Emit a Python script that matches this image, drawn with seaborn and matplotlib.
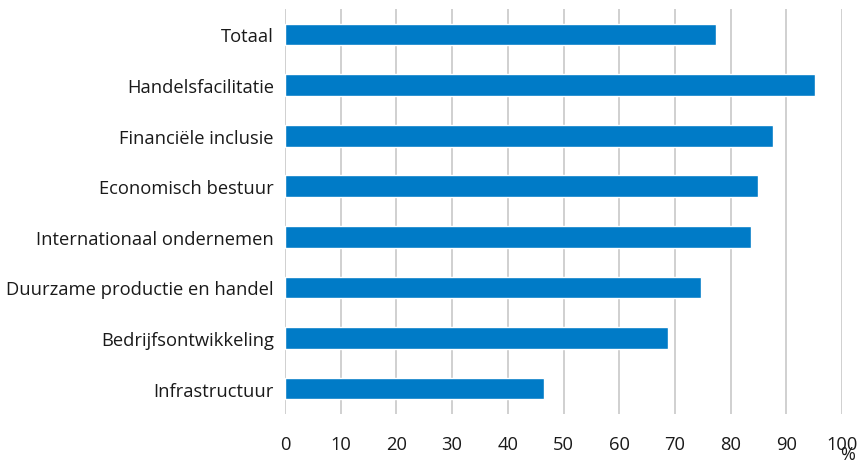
import matplotlib
matplotlib.use('Agg')
import matplotlib.pyplot as plt
import seaborn as sns
import pandas as pd

# ----------------------------
# Data
# ----------------------------
categories = [
    'Totaal',
    'Handelsfacilitatie',
    'Financiële inclusie',
    'Economisch bestuur',
    'Internationaal ondernemen',
    'Duurzame productie en handel',
    'Bedrijfsontwikkeling',
    'Infrastructuur',
]
values = [77.4, 95.1, 87.6, 84.9, 83.7, 74.7, 68.8, 46.5]
x_ticks = [0, 10, 20, 30, 40, 50, 60, 70, 80, 90, 100]

df = pd.DataFrame({'categorie': categories, 'waarde': values})

# ----------------------------
# Style
# ----------------------------
sns.set_style('white')
plt.rcParams['font.family'] = ['Open Sans', 'DejaVu Sans']

fig = plt.figure(figsize=(8.61, 4.64), dpi=100)
ax = fig.add_axes([0.331, 0.106, 0.647, 0.872])

sns.barplot(data=df, x='waarde', y='categorie', color='#007BC7',
            saturation=1, width=0.43, ax=ax, zorder=3)

ax.set_xlim(0, 100)
ax.set_ylim(7.5, -0.5)
ax.set_xticks(x_ticks)
ax.xaxis.grid(True, color='#d0d0d0', linewidth=1.4, zorder=0)
ax.yaxis.grid(False)
for s in ax.spines.values():
    s.set_visible(False)
ax.tick_params(axis='both', length=0, labelsize=13.2, labelcolor='#1a1a1a')
ax.tick_params(axis='x', pad=15)
ax.tick_params(axis='y', pad=8)
ax.set_xlabel('')
ax.set_ylabel('')

fig.text(848 / 861, 1 - 455 / 464, '%', fontsize=13, color='#1a1a1a',
         ha='center', va='center')

fig.savefig('out.png', dpi=100)
